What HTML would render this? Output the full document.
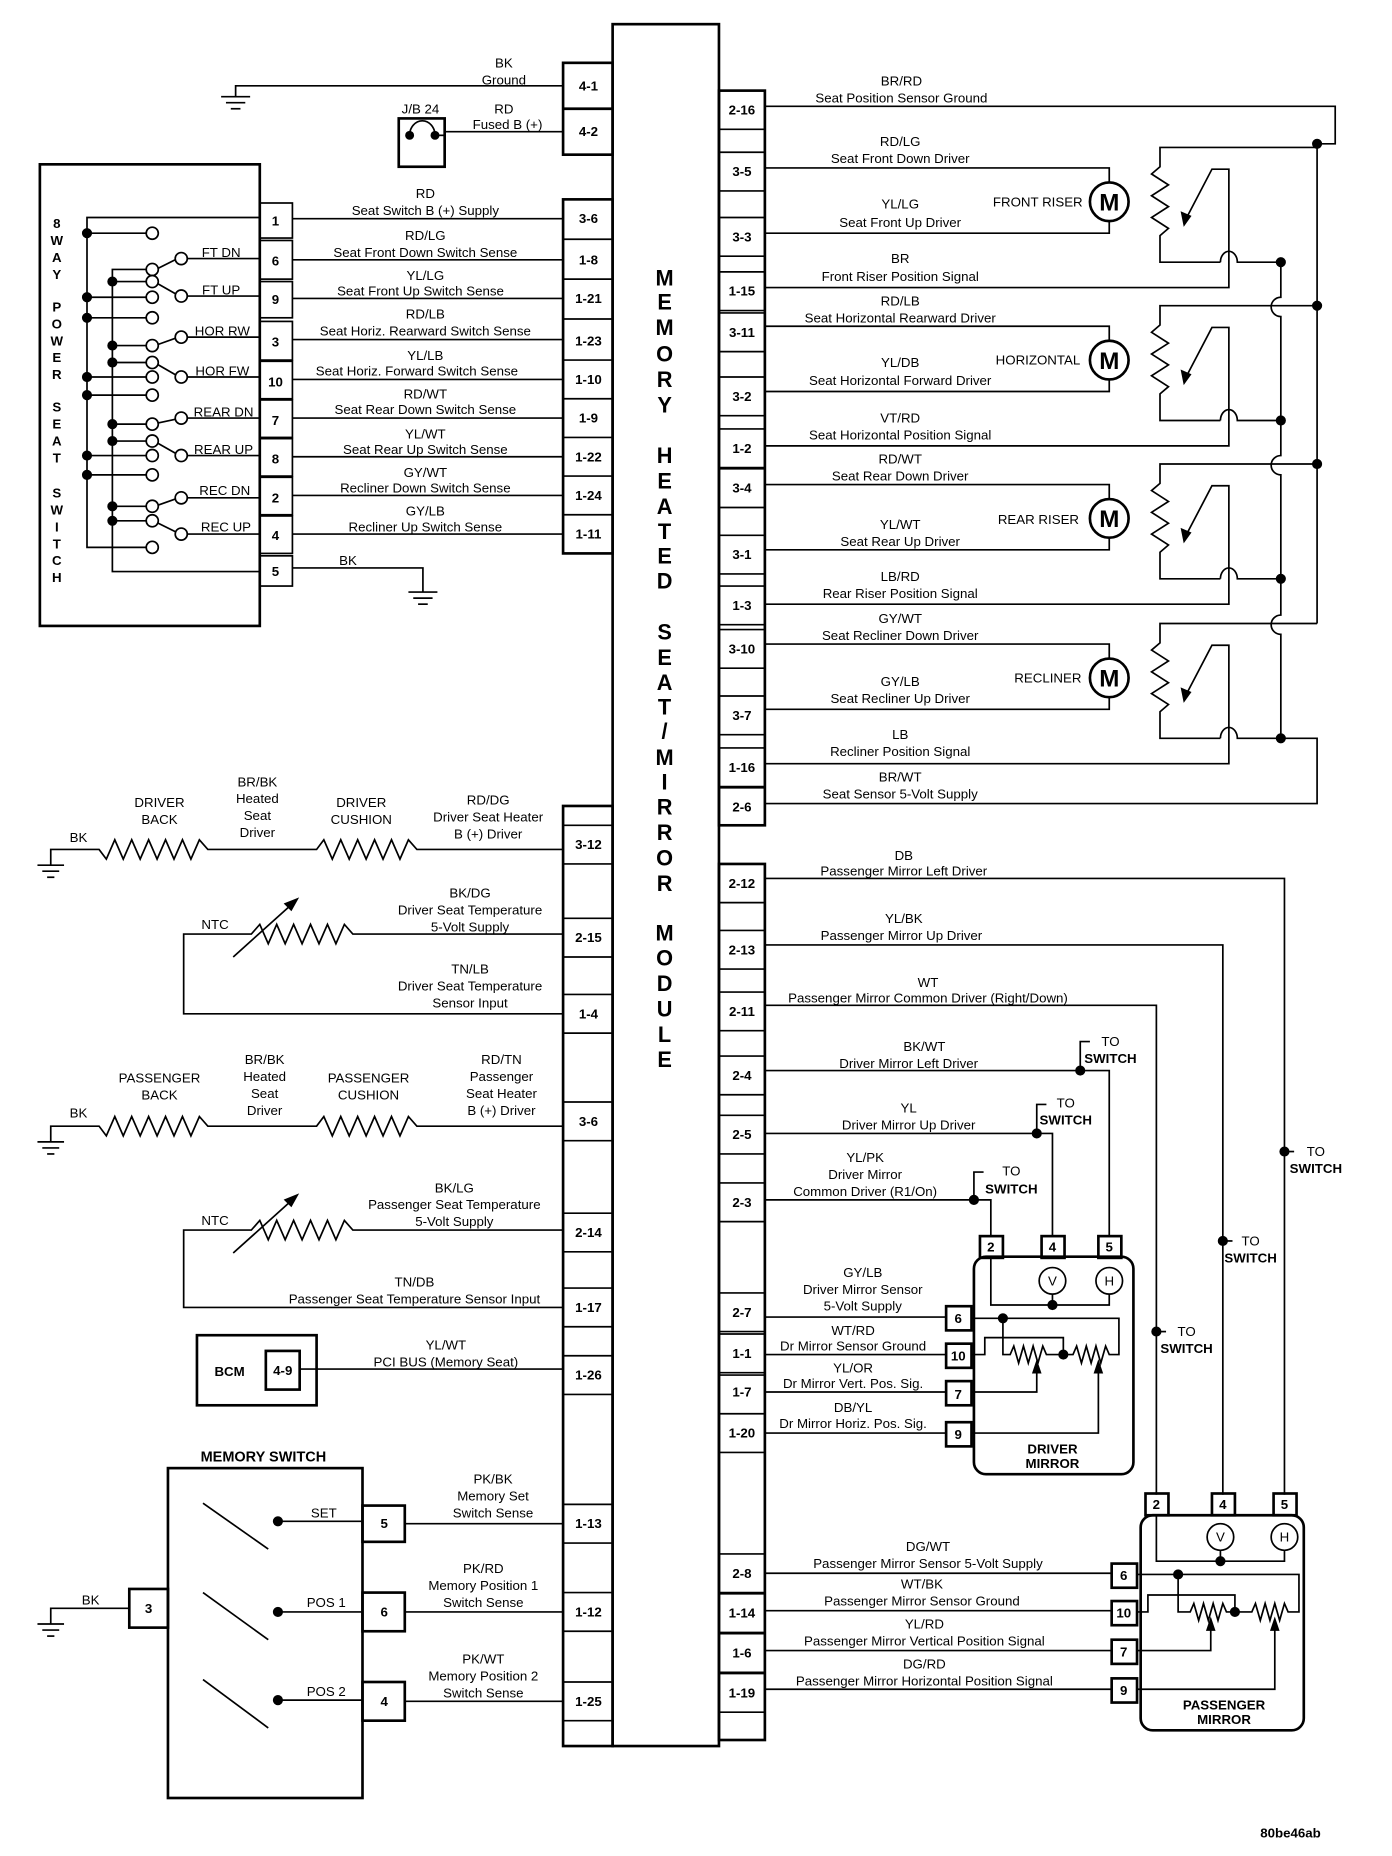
<!DOCTYPE html>
<html><head><meta charset="utf-8"><style>
html,body{margin:0;padding:0;background:#fff;}
svg{display:block}
text{font-family:"Liberation Sans",Arial,sans-serif;font-size:11px;dominant-baseline:central;text-anchor:middle;fill:#000}
.b{font-weight:bold}
.l{text-anchor:start}.r{text-anchor:end}
.big{font-size:18px;font-weight:bold}
line,polyline,path,rect,circle{stroke:#000;stroke-width:1.4;fill:none}
.t{stroke-width:2.2}
.d{fill:#000}
.w{fill:#fff}
</style></head><body>
<svg width="1392" height="1856" viewBox="0 0 1152 1536" xmlns="http://www.w3.org/2000/svg">
<rect x="507" y="20" width="88" height="1425" class="t"/>
<g class="big">
<text x="550" y="230" class="big">M</text><text x="550" y="250" class="big">E</text><text x="550" y="271" class="big">M</text><text x="550" y="293" class="big">O</text><text x="550" y="314" class="big">R</text><text x="550" y="335" class="big">Y</text>
<text x="550" y="377" class="big">H</text><text x="550" y="398" class="big">E</text><text x="550" y="419" class="big">A</text><text x="550" y="440" class="big">T</text><text x="550" y="460" class="big">E</text><text x="550" y="481" class="big">D</text>
<text x="550" y="523" class="big">S</text><text x="550" y="544" class="big">E</text><text x="550" y="565" class="big">A</text><text x="550" y="585" class="big">T</text><text x="550" y="605" class="big">/</text><text x="550" y="627" class="big">M</text><text x="550" y="647" class="big">I</text><text x="550" y="668" class="big">R</text><text x="550" y="689" class="big">R</text><text x="550" y="710" class="big">O</text><text x="550" y="731" class="big">R</text>
<text x="550" y="772" class="big">M</text><text x="550" y="793" class="big">O</text><text x="550" y="814" class="big">D</text><text x="550" y="835" class="big">U</text><text x="550" y="856" class="big">L</text><text x="550" y="877" class="big">E</text>
</g>

<rect x="466" y="52" width="41" height="76" class="t"/><line x1="466" y1="90" x2="507" y2="90" class="t"/>
<text x="487" y="71" class="b">4-1</text><text x="487" y="109" class="b">4-2</text>
<rect x="466" y="165" width="41" height="293" class="t"/>
<g class="t"><line x1="466" y1="198" x2="507" y2="198"/><line x1="466" y1="231" x2="507" y2="231"/><line x1="466" y1="264" x2="507" y2="264"/><line x1="466" y1="298" x2="507" y2="298"/><line x1="466" y1="330" x2="507" y2="330"/><line x1="466" y1="362" x2="507" y2="362"/><line x1="466" y1="394" x2="507" y2="394"/><line x1="466" y1="426" x2="507" y2="426"/></g>
<text x="487" y="181" class="b">3-6</text><text x="487" y="215" class="b">1-8</text><text x="487" y="247" class="b">1-21</text><text x="487" y="282" class="b">1-23</text><text x="487" y="314" class="b">1-10</text><text x="487" y="346" class="b">1-9</text><text x="487" y="378" class="b">1-22</text><text x="487" y="410" class="b">1-24</text><text x="487" y="442" class="b">1-11</text>
<rect x="466" y="667" width="41" height="778" class="t"/>
<g class="t">
<line x1="466" y1="683" x2="507" y2="683"/><line x1="466" y1="715" x2="507" y2="715"/>
<line x1="466" y1="760" x2="507" y2="760"/><line x1="466" y1="792" x2="507" y2="792"/>
<line x1="466" y1="823" x2="507" y2="823"/><line x1="466" y1="855" x2="507" y2="855"/>
<line x1="466" y1="912" x2="507" y2="912"/><line x1="466" y1="944" x2="507" y2="944"/>
<line x1="466" y1="1004" x2="507" y2="1004"/><line x1="466" y1="1036" x2="507" y2="1036"/>
<line x1="466" y1="1066" x2="507" y2="1066"/><line x1="466" y1="1098" x2="507" y2="1098"/>
<line x1="466" y1="1122" x2="507" y2="1122"/><line x1="466" y1="1154" x2="507" y2="1154"/>
<line x1="466" y1="1245" x2="507" y2="1245"/><line x1="466" y1="1277" x2="507" y2="1277"/>
<line x1="466" y1="1318" x2="507" y2="1318"/><line x1="466" y1="1350" x2="507" y2="1350"/>
<line x1="466" y1="1392" x2="507" y2="1392"/><line x1="466" y1="1424" x2="507" y2="1424"/>
</g>
<text x="487" y="699" class="b">3-12</text><text x="487" y="776" class="b">2-15</text><text x="487" y="839" class="b">1-4</text><text x="487" y="928" class="b">3-6</text><text x="487" y="1020" class="b">2-14</text><text x="487" y="1082" class="b">1-17</text><text x="487" y="1138" class="b">1-26</text><text x="487" y="1261" class="b">1-13</text><text x="487" y="1334" class="b">1-12</text><text x="487" y="1408" class="b">1-25</text>

<rect x="595" y="75" width="38" height="608" class="t"/>
<g class="t">
<line x1="595" y1="107" x2="633" y2="107"/><line x1="595" y1="126" x2="633" y2="126"/><line x1="595" y1="158" x2="633" y2="158"/><line x1="595" y1="180" x2="633" y2="180"/><line x1="595" y1="212" x2="633" y2="212"/><line x1="595" y1="225" x2="633" y2="225"/><line x1="595" y1="257" x2="633" y2="257"/><line x1="595" y1="259" x2="633" y2="259"/><line x1="595" y1="291" x2="633" y2="291"/><line x1="595" y1="312" x2="633" y2="312"/><line x1="595" y1="344" x2="633" y2="344"/><line x1="595" y1="355" x2="633" y2="355"/><line x1="595" y1="387" x2="633" y2="387"/><line x1="595" y1="388" x2="633" y2="388"/><line x1="595" y1="420" x2="633" y2="420"/><line x1="595" y1="443" x2="633" y2="443"/><line x1="595" y1="475" x2="633" y2="475"/><line x1="595" y1="485" x2="633" y2="485"/><line x1="595" y1="517" x2="633" y2="517"/><line x1="595" y1="521" x2="633" y2="521"/><line x1="595" y1="553" x2="633" y2="553"/><line x1="595" y1="576" x2="633" y2="576"/><line x1="595" y1="608" x2="633" y2="608"/><line x1="595" y1="619" x2="633" y2="619"/><line x1="595" y1="651" x2="633" y2="651"/><line x1="595" y1="652" x2="633" y2="652"/>
</g>
<text x="614" y="91" class="b">2-16</text><text x="614" y="142" class="b">3-5</text><text x="614" y="196" class="b">3-3</text><text x="614" y="241" class="b">1-15</text><text x="614" y="275" class="b">3-11</text><text x="614" y="328" class="b">3-2</text><text x="614" y="371" class="b">1-2</text><text x="614" y="404" class="b">3-4</text><text x="614" y="459" class="b">3-1</text><text x="614" y="501" class="b">1-3</text><text x="614" y="537" class="b">3-10</text><text x="614" y="592" class="b">3-7</text><text x="614" y="635" class="b">1-16</text><text x="614" y="668" class="b">2-6</text>
<rect x="595" y="715" width="38" height="725" class="t"/>
<g class="t">
<line x1="595" y1="747" x2="633" y2="747"/><line x1="595" y1="770" x2="633" y2="770"/><line x1="595" y1="802" x2="633" y2="802"/><line x1="595" y1="821" x2="633" y2="821"/><line x1="595" y1="853" x2="633" y2="853"/><line x1="595" y1="874" x2="633" y2="874"/><line x1="595" y1="906" x2="633" y2="906"/><line x1="595" y1="923" x2="633" y2="923"/><line x1="595" y1="955" x2="633" y2="955"/><line x1="595" y1="979" x2="633" y2="979"/><line x1="595" y1="1011" x2="633" y2="1011"/><line x1="595" y1="1070" x2="633" y2="1070"/><line x1="595" y1="1102" x2="633" y2="1102"/><line x1="595" y1="1104" x2="633" y2="1104"/><line x1="595" y1="1136" x2="633" y2="1136"/><line x1="595" y1="1138" x2="633" y2="1138"/><line x1="595" y1="1170" x2="633" y2="1170"/><line x1="595" y1="1202" x2="633" y2="1202"/><line x1="595" y1="1286" x2="633" y2="1286"/><line x1="595" y1="1318" x2="633" y2="1318"/><line x1="595" y1="1319" x2="633" y2="1319"/><line x1="595" y1="1351" x2="633" y2="1351"/><line x1="595" y1="1352" x2="633" y2="1352"/><line x1="595" y1="1384" x2="633" y2="1384"/><line x1="595" y1="1385" x2="633" y2="1385"/><line x1="595" y1="1417" x2="633" y2="1417"/>
</g>
<text x="614" y="731" class="b">2-12</text><text x="614" y="786" class="b">2-13</text><text x="614" y="837" class="b">2-11</text><text x="614" y="890" class="b">2-4</text><text x="614" y="939" class="b">2-5</text><text x="614" y="995" class="b">2-3</text><text x="614" y="1086" class="b">2-7</text><text x="614" y="1120" class="b">1-1</text><text x="614" y="1152" class="b">1-7</text><text x="614" y="1186" class="b">1-20</text><text x="614" y="1302" class="b">2-8</text><text x="614" y="1335" class="b">1-14</text><text x="614" y="1368" class="b">1-6</text><text x="614" y="1401" class="b">1-19</text>

<text x="417" y="52">BK</text><text x="417" y="66">Ground</text>
<polyline points="466,71 195,71 195,80"/>
<line x1="183" y1="80" x2="207" y2="80"/><line x1="187" y1="85" x2="203" y2="85"/><line x1="191" y1="90" x2="199" y2="90"/>
<text x="348" y="90">J/B 24</text>
<rect x="330" y="98" width="38" height="40" class="t"/>
<path d="M339,112 A10.5,12 0 0 1 360,112"/>
<circle cx="339" cy="112" r="3" class="d"/><circle cx="360" cy="112" r="3" class="d"/>
<line x1="360" y1="112" x2="368" y2="112"/>
<text x="417" y="90">RD</text><text x="420" y="103">Fused B (+)</text>
<line x1="368" y1="109" x2="466" y2="109"/>

<rect x="33" y="136" width="182" height="382" class="t"/>
<g class="b">
<text x="47" y="185" class="b">8</text><text x="47" y="199" class="b">W</text><text x="47" y="213" class="b">A</text><text x="47" y="227" class="b">Y</text>
<text x="47" y="254" class="b">P</text><text x="47" y="268" class="b">O</text><text x="47" y="282" class="b">W</text><text x="47" y="296" class="b">E</text><text x="47" y="310" class="b">R</text>
<text x="47" y="337" class="b">S</text><text x="47" y="351" class="b">E</text><text x="47" y="365" class="b">A</text><text x="47" y="379" class="b">T</text>
<text x="47" y="408" class="b">S</text><text x="47" y="422" class="b">W</text><text x="47" y="436" class="b">I</text><text x="47" y="450" class="b">T</text><text x="47" y="464" class="b">C</text><text x="47" y="478" class="b">H</text>
</g>
<g class="t">
<rect x="215" y="168" width="27" height="29"/><rect x="215" y="199" width="27" height="32"/><rect x="215" y="233" width="27" height="30"/><rect x="215" y="266" width="27" height="32"/><rect x="215" y="299" width="27" height="31"/><rect x="215" y="331" width="27" height="31"/><rect x="215" y="363" width="27" height="31"/><rect x="215" y="395" width="27" height="31"/><rect x="215" y="427" width="27" height="31"/><rect x="215" y="460" width="27" height="25"/>
</g>
<text x="228" y="183" class="b">1</text><text x="228" y="216" class="b">6</text><text x="228" y="248" class="b">9</text><text x="228" y="283" class="b">3</text><text x="228" y="316" class="b">10</text><text x="228" y="348" class="b">7</text><text x="228" y="380" class="b">8</text><text x="228" y="412" class="b">2</text><text x="228" y="443" class="b">4</text><text x="228" y="473" class="b">5</text>
<polyline points="215,180 72,180 72,453 121,453"/>
<polyline points="121,223 93,223 93,473 215,473"/>
<g>
<line x1="72" y1="193" x2="121" y2="193"/><line x1="72" y1="246" x2="121" y2="246"/><line x1="72" y1="263" x2="121" y2="263"/><line x1="72" y1="312" x2="121" y2="312"/><line x1="72" y1="327" x2="121" y2="327"/><line x1="72" y1="377" x2="121" y2="377"/><line x1="72" y1="393" x2="121" y2="393"/>
<line x1="93" y1="233" x2="121" y2="233"/><line x1="93" y1="286" x2="121" y2="286"/><line x1="93" y1="300" x2="121" y2="300"/><line x1="93" y1="351" x2="121" y2="351"/><line x1="93" y1="365" x2="121" y2="365"/><line x1="93" y1="419" x2="121" y2="419"/><line x1="93" y1="431" x2="121" y2="431"/>
<line x1="131" y1="222" x2="145" y2="215"/><line x1="131" y1="235" x2="145" y2="243"/>
<line x1="131" y1="285" x2="145" y2="280"/><line x1="131" y1="302" x2="145" y2="310"/>
<line x1="131" y1="350" x2="145" y2="347"/><line x1="131" y1="367" x2="145" y2="375"/>
<line x1="131" y1="418" x2="145" y2="413"/><line x1="131" y1="433" x2="145" y2="440"/>
<line x1="155" y1="214" x2="215" y2="214"/><line x1="155" y1="245" x2="215" y2="245"/><line x1="155" y1="279" x2="215" y2="279"/><line x1="155" y1="312" x2="215" y2="312"/><line x1="155" y1="346" x2="215" y2="346"/><line x1="155" y1="377" x2="215" y2="377"/><line x1="155" y1="412" x2="215" y2="412"/><line x1="155" y1="442" x2="215" y2="442"/>
</g>
<g class="w">
<circle cx="126" cy="193" r="5" class="w"/><circle cx="126" cy="223" r="5" class="w"/><circle cx="126" cy="233" r="5" class="w"/><circle cx="126" cy="246" r="5" class="w"/><circle cx="126" cy="263" r="5" class="w"/><circle cx="126" cy="286" r="5" class="w"/><circle cx="126" cy="300" r="5" class="w"/><circle cx="126" cy="312" r="5" class="w"/><circle cx="126" cy="327" r="5" class="w"/><circle cx="126" cy="351" r="5" class="w"/><circle cx="126" cy="365" r="5" class="w"/><circle cx="126" cy="377" r="5" class="w"/><circle cx="126" cy="393" r="5" class="w"/><circle cx="126" cy="419" r="5" class="w"/><circle cx="126" cy="431" r="5" class="w"/><circle cx="126" cy="453" r="5" class="w"/>
<circle cx="150" cy="214" r="5" class="w"/><circle cx="150" cy="245" r="5" class="w"/><circle cx="150" cy="279" r="5" class="w"/><circle cx="150" cy="312" r="5" class="w"/><circle cx="150" cy="346" r="5" class="w"/><circle cx="150" cy="377" r="5" class="w"/><circle cx="150" cy="412" r="5" class="w"/><circle cx="150" cy="442" r="5" class="w"/>
</g>
<g class="d">
<circle cx="72" cy="193" r="3.5" class="d"/><circle cx="72" cy="246" r="3.5" class="d"/><circle cx="72" cy="263" r="3.5" class="d"/><circle cx="72" cy="312" r="3.5" class="d"/><circle cx="72" cy="327" r="3.5" class="d"/><circle cx="72" cy="377" r="3.5" class="d"/><circle cx="72" cy="393" r="3.5" class="d"/>
<circle cx="93" cy="233" r="3.5" class="d"/><circle cx="93" cy="286" r="3.5" class="d"/><circle cx="93" cy="300" r="3.5" class="d"/><circle cx="93" cy="351" r="3.5" class="d"/><circle cx="93" cy="365" r="3.5" class="d"/><circle cx="93" cy="419" r="3.5" class="d"/><circle cx="93" cy="431" r="3.5" class="d"/>
</g>
<text x="183" y="209">FT DN</text><text x="183" y="240">FT UP</text><text x="184" y="274">HOR RW</text><text x="184" y="307">HOR FW</text><text x="185" y="341">REAR DN</text><text x="185" y="372">REAR UP</text><text x="186" y="406">REC DN</text><text x="187" y="436">REC UP</text>
<g>
<line x1="242" y1="181" x2="466" y2="181"/><line x1="242" y1="215" x2="466" y2="215"/><line x1="242" y1="247" x2="466" y2="247"/><line x1="242" y1="281" x2="466" y2="281"/><line x1="242" y1="314" x2="466" y2="314"/><line x1="242" y1="346" x2="466" y2="346"/><line x1="242" y1="378" x2="466" y2="378"/><line x1="242" y1="410" x2="466" y2="410"/><line x1="242" y1="442" x2="466" y2="442"/>
<polyline points="242,470 350,470 350,490"/>
<line x1="338" y1="490" x2="362" y2="490"/><line x1="342" y1="495" x2="358" y2="495"/><line x1="346" y1="500" x2="354" y2="500"/>
</g>
<text x="352" y="160">RD</text><text x="352" y="174">Seat Switch B (+) Supply</text>
<text x="352" y="195">RD/LG</text><text x="352" y="209">Seat Front Down Switch Sense</text>
<text x="352" y="228">YL/LG</text><text x="348" y="241">Seat Front Up Switch Sense</text>
<text x="352" y="260">RD/LB</text><text x="352" y="274">Seat Horiz. Rearward Switch Sense</text>
<text x="352" y="294">YL/LB</text><text x="345" y="307">Seat Horiz. Forward Switch Sense</text>
<text x="352" y="326">RD/WT</text><text x="352" y="339">Seat Rear Down Switch Sense</text>
<text x="352" y="359">YL/WT</text><text x="352" y="372">Seat Rear Up Switch Sense</text>
<text x="352" y="391">GY/WT</text><text x="352" y="404">Recliner Down Switch Sense</text>
<text x="352" y="423">GY/LB</text><text x="352" y="436">Recliner Up Switch Sense</text>
<text x="288" y="464">BK</text>

<polyline points="633,88 1105,88 1105,119 1090,119"/>
<text x="746" y="67">BR/RD</text><text x="746" y="81">Seat Position Sensor Ground</text>
<g id="mp">
<polyline points="633,139 918,139 918,151"/>
<polyline points="633,193 918,193 918,183"/>
<circle cx="918" cy="167" r="16" class="t"/>
<polyline points="633,238 1017,238 1017,140 1003,140 980,184"/>
<path d="M980,186 L978,176 L985,179 Z" class="d"/>
<polyline points="1090,122 960,122 960,138 953,144 967,153 953,162 967,171 953,180 967,189 960,195 960,217 1010,217"/>
<path d="M1010,217 A7,9 0 0 1 1024,217 L1060,217"/>
</g>
<use href="#mp" y="131"/>
<use href="#mp" y="262"/>
<use href="#mp" y="394"/>
<text x="918" y="168" class="big" style="font-size:20px">M</text>
<text x="918" y="299" class="big" style="font-size:20px">M</text>
<text x="918" y="430" class="big" style="font-size:20px">M</text>
<text x="918" y="562" class="big" style="font-size:20px">M</text>
<text x="896" y="167" class="r">FRONT RISER</text>
<text x="894" y="298" class="r">HORIZONTAL</text>
<text x="893" y="430" class="r">REAR RISER</text>
<text x="895" y="561" class="r">RECLINER</text>
<line x1="1090" y1="119" x2="1090" y2="516"/>
<path d="M1060,217 L1060,246 A8,8 0 0 0 1060,262 L1060,377 A8,8 0 0 0 1060,393 L1060,509 A8,8 0 0 0 1060,525 L1060,611 L1090,611 L1090,665 L633,665"/>
<circle cx="1090" cy="119" r="3.5" class="d"/><circle cx="1090" cy="253" r="3.5" class="d"/><circle cx="1090" cy="384" r="3.5" class="d"/>
<circle cx="1060" cy="217" r="3.5" class="d"/><circle cx="1060" cy="348" r="3.5" class="d"/><circle cx="1060" cy="479" r="3.5" class="d"/><circle cx="1060" cy="611" r="3.5" class="d"/>
<text x="745" y="117">RD/LG</text><text x="745" y="131">Seat Front Down Driver</text>
<text x="745" y="169">YL/LG</text><text x="745" y="184">Seat Front Up Driver</text>
<text x="745" y="214">BR</text><text x="745" y="229">Front Riser Position Signal</text>
<text x="745" y="249">RD/LB</text><text x="745" y="263">Seat Horizontal Rearward Driver</text>
<text x="745" y="300">YL/DB</text><text x="745" y="315">Seat Horizontal Forward Driver</text>
<text x="745" y="346">VT/RD</text><text x="745" y="360">Seat Horizontal Position Signal</text>
<text x="745" y="380">RD/WT</text><text x="745" y="394">Seat Rear Down Driver</text>
<text x="745" y="434">YL/WT</text><text x="745" y="448">Seat Rear Up Driver</text>
<text x="745" y="477">LB/RD</text><text x="745" y="491">Rear Riser Position Signal</text>
<text x="745" y="512">GY/WT</text><text x="745" y="526">Seat Recliner Down Driver</text>
<text x="745" y="564">GY/LB</text><text x="745" y="578">Seat Recliner Up Driver</text>
<text x="745" y="608">LB</text><text x="745" y="622">Recliner Position Signal</text>
<text x="745" y="643">BR/WT</text><text x="745" y="657">Seat Sensor 5-Volt Supply</text>

<polyline points="633,727 1063,727 1063,1237"/>
<polyline points="633,782 1012,782 1012,1237"/>
<polyline points="633,832 957,832 957,1237"/>
<circle cx="1063" cy="953" r="3.5" class="d"/><line x1="1063" y1="953" x2="1071" y2="953"/>
<text x="1089" y="953">TO</text><text x="1089" y="967" class="b">SWITCH</text>
<circle cx="1012" cy="1027" r="3.5" class="d"/><line x1="1012" y1="1027" x2="1020" y2="1027"/>
<text x="1035" y="1027">TO</text><text x="1035" y="1041" class="b">SWITCH</text>
<circle cx="957" cy="1102" r="3.5" class="d"/><line x1="957" y1="1102" x2="965" y2="1102"/>
<text x="982" y="1102">TO</text><text x="982" y="1116" class="b">SWITCH</text>
<text x="748" y="708">DB</text><text x="748" y="721">Passenger Mirror Left Driver</text>
<text x="748" y="760">YL/BK</text><text x="746" y="774">Passenger Mirror Up Driver</text>
<text x="768" y="813">WT</text><text x="768" y="826">Passenger Mirror Common Driver (Right/Down)</text>

<polyline points="633,886 918,886 918,1023"/>
<circle cx="894" cy="886" r="3.5" class="d"/><polyline points="894,886 894,862 902,862"/>
<text x="919" y="862">TO</text><text x="919" y="876" class="b">SWITCH</text>
<polyline points="633,938 871,938 871,1023"/>
<circle cx="858" cy="938" r="3.5" class="d"/><polyline points="858,938 858,914 866,914"/>
<text x="882" y="913">TO</text><text x="882" y="927" class="b">SWITCH</text>
<polyline points="633,993 820,993 820,1023"/>
<circle cx="806" cy="993" r="3.5" class="d"/><polyline points="806,993 806,970 814,970"/>
<text x="837" y="969">TO</text><text x="837" y="984" class="b">SWITCH</text>
<text x="765" y="866">BK/WT</text><text x="752" y="880">Driver Mirror Left Driver</text>
<text x="752" y="917">YL</text><text x="752" y="931">Driver Mirror Up Driver</text>
<text x="716" y="958">YL/PK</text><text x="716" y="972">Driver Mirror</text><text x="716" y="986">Common Driver (R1/On)</text>

<rect x="806" y="1040" width="132" height="180" rx="10" class="t"/>
<rect x="811" y="1023" width="19" height="18" class="t"/><rect x="862" y="1023" width="19" height="18" class="t"/><rect x="909" y="1023" width="19" height="18" class="t"/>
<text x="820" y="1032" class="b">2</text><text x="871" y="1032" class="b">4</text><text x="918" y="1032" class="b">5</text>
<polyline points="820,1041 820,1080 918,1080 918,1071"/>
<line x1="871" y1="1071" x2="871" y2="1080"/>
<circle cx="871" cy="1060" r="11" class="w"/><circle cx="918" cy="1060" r="11" class="w"/>
<text x="871" y="1060">V</text><text x="918" y="1060">H</text>
<circle cx="871" cy="1080" r="3.5" class="d"/>
<rect x="783" y="1081" width="21" height="20" class="t"/><rect x="783" y="1112" width="21" height="20" class="t"/><rect x="783" y="1143" width="21" height="20" class="t"/><rect x="783" y="1177" width="21" height="20" class="t"/>
<text x="793" y="1091" class="b">6</text><text x="793" y="1122" class="b">10</text><text x="793" y="1154" class="b">7</text><text x="793" y="1187" class="b">9</text>
<line x1="633" y1="1090" x2="783" y2="1090"/><line x1="633" y1="1121" x2="783" y2="1121"/><line x1="633" y1="1152" x2="783" y2="1152"/><line x1="633" y1="1186" x2="783" y2="1186"/>
<polyline points="804,1091 926,1091 926,1121 918,1121 915,1114 911,1128 907,1114 903,1128 899,1114 895,1128 891,1114 888,1121 866,1121 863,1114 859,1128 855,1114 851,1128 847,1114 843,1128 839,1114 836,1121 830,1121 830,1091"/>
<polyline points="804,1121 815,1121 815,1107 880,1107 880,1121"/>
<circle cx="830" cy="1091" r="3.5" class="d"/><circle cx="880" cy="1121" r="3.5" class="d"/>
<polyline points="804,1152 858,1152 858,1134"/><path d="M855,1136 L858,1127 L861,1136 Z" class="d"/>
<polyline points="804,1186 909,1186 909,1134"/><path d="M906,1136 L909,1127 L912,1136 Z" class="d"/>
<text x="871" y="1199" class="b">DRIVER</text><text x="871" y="1211" class="b">MIRROR</text>
<text x="714" y="1053">GY/LB</text><text x="714" y="1067">Driver Mirror Sensor</text><text x="714" y="1081">5-Volt Supply</text>
<text x="706" y="1101">WT/RD</text><text x="706" y="1114">Dr Mirror Sensor Ground</text>
<text x="706" y="1132">YL/OR</text><text x="706" y="1145">Dr Mirror Vert. Pos. Sig.</text>
<text x="706" y="1165">DB/YL</text><text x="706" y="1178">Dr Mirror Horiz. Pos. Sig.</text>

<rect x="944" y="1254" width="135" height="178" rx="10" class="t"/>
<rect x="948" y="1236" width="19" height="18" class="t"/><rect x="1003" y="1236" width="19" height="18" class="t"/><rect x="1054" y="1236" width="19" height="18" class="t"/>
<text x="957" y="1245" class="b">2</text><text x="1012" y="1245" class="b">4</text><text x="1063" y="1245" class="b">5</text>
<polyline points="957,1254 957,1292 1063,1292 1063,1283"/>
<line x1="1010" y1="1283" x2="1010" y2="1292"/>
<circle cx="1010" cy="1272" r="11" class="w"/><circle cx="1063" cy="1272" r="11" class="w"/>
<text x="1010" y="1272">V</text><text x="1063" y="1272">H</text>
<circle cx="1010" cy="1292" r="3.5" class="d"/>
<rect x="920" y="1294" width="21" height="20" class="t"/><rect x="920" y="1325" width="21" height="20" class="t"/><rect x="920" y="1357" width="21" height="20" class="t"/><rect x="920" y="1389" width="21" height="20" class="t"/>
<text x="930" y="1304" class="b">6</text><text x="930" y="1335" class="b">10</text><text x="930" y="1367" class="b">7</text><text x="930" y="1399" class="b">9</text>
<line x1="633" y1="1302" x2="920" y2="1302"/><line x1="633" y1="1333" x2="920" y2="1333"/><line x1="633" y1="1366" x2="920" y2="1366"/><line x1="633" y1="1398" x2="920" y2="1398"/>
<polyline points="941,1303 1075,1303 1075,1334 1066,1334 1063,1327 1059,1341 1055,1327 1051,1341 1047,1327 1043,1341 1039,1327 1036,1334 1015,1334 1012,1327 1008,1341 1004,1327 1000,1341 996,1327 992,1341 988,1327 985,1334 975,1334 975,1303"/>
<polyline points="941,1334 950,1334 950,1320 1022,1320 1022,1334"/>
<circle cx="975" cy="1303" r="3.5" class="d"/><circle cx="1022" cy="1334" r="3.5" class="d"/>
<polyline points="941,1366 1002,1366 1002,1347"/><path d="M999,1349 L1002,1340 L1005,1349 Z" class="d"/>
<polyline points="941,1398 1055,1398 1055,1347"/><path d="M1052,1349 L1055,1340 L1058,1349 Z" class="d"/>
<text x="1013" y="1411" class="b">PASSENGER</text><text x="1013" y="1423" class="b">MIRROR</text>
<text x="768" y="1280">DG/WT</text><text x="768" y="1294">Passenger Mirror Sensor 5-Volt Supply</text>
<text x="763" y="1311">WT/BK</text><text x="763" y="1325">Passenger Mirror Sensor Ground</text>
<text x="765" y="1344">YL/RD</text><text x="765" y="1358">Passenger Mirror Vertical Position Signal</text>
<text x="765" y="1377">DG/RD</text><text x="765" y="1391">Passenger Mirror Horizontal Position Signal</text>

<text x="132" y="664">DRIVER</text><text x="132" y="678">BACK</text>
<text x="213" y="647">BR/BK</text><text x="213" y="661">Heated</text><text x="213" y="675">Seat</text><text x="213" y="689">Driver</text>
<text x="299" y="664">DRIVER</text><text x="299" y="678">CUSHION</text>
<text x="404" y="662">RD/DG</text><text x="404" y="676">Driver Seat Heater</text><text x="404" y="690">B (+) Driver</text>
<text x="65" y="693">BK</text>
<polyline points="466,703 345,703 338,695 331,711 324,695 317,711 310,695 303,711 296,695 289,711 282,695 275,711 268,695 262,703 172,703 165,695 158,711 151,695 144,711 137,695 130,711 123,695 116,711 109,695 102,711 95,695 88,711 82,703 42,703 42,716"/>
<line x1="31" y1="716" x2="53" y2="716"/><line x1="35" y1="721" x2="49" y2="721"/><line x1="39" y1="726" x2="45" y2="726"/>
<text x="178" y="765">NTC</text>
<text x="389" y="739">BK/DG</text><text x="389" y="753">Driver Seat Temperature</text><text x="389" y="767">5-Volt Supply</text>
<text x="389" y="802">TN/LB</text><text x="389" y="816">Driver Seat Temperature</text><text x="389" y="830">Sensor Input</text>
<polyline points="466,773 292,773 285,765 278,781 271,765 264,781 257,765 250,781 243,765 236,781 229,765 222,781 215,765 208,773 152,773 152,839 466,839"/>
<line x1="193" y1="792" x2="243" y2="747"/><path d="M246,744 L236,748 L241,753 Z" class="d"/>
<text x="132" y="892">PASSENGER</text><text x="132" y="906">BACK</text>
<text x="219" y="877">BR/BK</text><text x="219" y="891">Heated</text><text x="219" y="905">Seat</text><text x="219" y="919">Driver</text>
<text x="305" y="892">PASSENGER</text><text x="305" y="906">CUSHION</text>
<text x="415" y="877">RD/TN</text><text x="415" y="891">Passenger</text><text x="415" y="905">Seat Heater</text><text x="415" y="919">B (+) Driver</text>
<text x="65" y="921">BK</text>
<polyline points="466,932 345,932 338,924 331,940 324,924 317,940 310,924 303,940 296,924 289,940 282,924 275,940 268,924 262,932 172,932 165,924 158,940 151,924 144,940 137,924 130,940 123,924 116,940 109,924 102,940 95,924 88,940 82,932 42,932 42,945"/>
<line x1="31" y1="945" x2="53" y2="945"/><line x1="35" y1="950" x2="49" y2="950"/><line x1="39" y1="955" x2="45" y2="955"/>
<text x="178" y="1010">NTC</text>
<text x="376" y="983">BK/LG</text><text x="376" y="997">Passenger Seat Temperature</text><text x="376" y="1011">5-Volt Supply</text>
<text x="343" y="1061">TN/DB</text><text x="343" y="1075">Passenger Seat Temperature Sensor Input</text>
<polyline points="466,1018 292,1018 285,1010 278,1026 271,1010 264,1026 257,1010 250,1026 243,1010 236,1026 229,1010 222,1026 215,1010 208,1018 152,1018 152,1082 466,1082"/>
<line x1="193" y1="1037" x2="243" y2="992"/><path d="M246,989 L236,993 L241,998 Z" class="d"/>
<rect x="163" y="1105" width="99" height="58" class="t"/>
<rect x="220" y="1118" width="28" height="32" class="t"/>
<text x="190" y="1135" class="b">BCM</text><text x="234" y="1134" class="b">4-9</text>
<line x1="248" y1="1133" x2="466" y2="1133"/>
<text x="369" y="1113">YL/WT</text><text x="369" y="1127">PCI BUS (Memory Seat)</text>
<text x="218" y="1206" class="b" style="font-size:12px">MEMORY SWITCH</text>
<rect x="139" y="1215" width="161" height="273" class="t"/>
<rect x="300" y="1246" width="35" height="30" class="t"/><rect x="300" y="1318" width="35" height="32" class="t"/><rect x="300" y="1392" width="35" height="32" class="t"/>
<text x="318" y="1261" class="b">5</text><text x="318" y="1334" class="b">6</text><text x="318" y="1408" class="b">4</text>
<rect x="107" y="1315" width="32" height="32" class="t"/><text x="123" y="1331" class="b">3</text>
<line x1="230" y1="1259" x2="300" y2="1259"/><line x1="230" y1="1334" x2="300" y2="1334"/><line x1="230" y1="1407" x2="300" y2="1407"/>
<circle cx="230" cy="1259" r="3.5" class="d"/><circle cx="230" cy="1334" r="3.5" class="d"/><circle cx="230" cy="1407" r="3.5" class="d"/>
<line x1="168" y1="1244" x2="222" y2="1282"/><line x1="168" y1="1318" x2="222" y2="1357"/><line x1="168" y1="1390" x2="222" y2="1430"/>
<text x="268" y="1252">SET</text><text x="270" y="1326">POS 1</text><text x="270" y="1400">POS 2</text>
<polyline points="107,1331 42,1331 42,1344"/>
<line x1="31" y1="1344" x2="53" y2="1344"/><line x1="35" y1="1349" x2="49" y2="1349"/><line x1="39" y1="1354" x2="45" y2="1354"/>
<text x="75" y="1324">BK</text>
<line x1="335" y1="1261" x2="466" y2="1261"/><line x1="335" y1="1334" x2="466" y2="1334"/><line x1="335" y1="1408" x2="466" y2="1408"/>
<text x="408" y="1224">PK/BK</text><text x="408" y="1238">Memory Set</text><text x="408" y="1252">Switch Sense</text>
<text x="400" y="1298">PK/RD</text><text x="400" y="1312">Memory Position 1</text><text x="400" y="1326">Switch Sense</text>
<text x="400" y="1373">PK/WT</text><text x="400" y="1387">Memory Position 2</text><text x="400" y="1401">Switch Sense</text>

<text x="1068" y="1517" class="b">80be46ab</text>
</svg>
</body></html>
